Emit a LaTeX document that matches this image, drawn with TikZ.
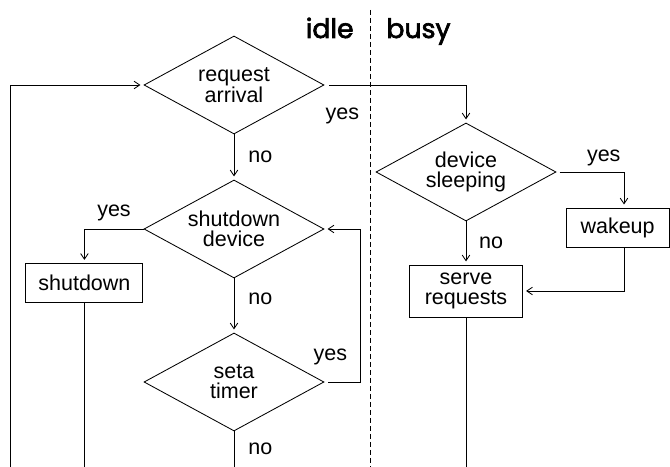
\documentclass[tikz,border=0pt]{standalone}
\usepackage{fontspec}
\setmainfont{Liberation Sans}
\newfontfamily\tagfont[FakeBold=2.5]{Poppins}
\usetikzlibrary{shapes.geometric, arrows, arrows.meta}
\tikzstyle{decision} = [diamond, aspect=1.84, minimum width=4.5cm, minimum height=2.45cm, inner sep=1pt, text centered, align=center, draw=black]
\tikzstyle{process} = [rectangle, minimum height=0.975cm, text centered, align=center, draw=black]
\tikzstyle{arrow} = [->, >={Straight Barb[length=1.4mm, width=1.9mm]}, shorten >=0.08cm]
\tikzstyle{tag} = [font=\tagfont\fontsize{19}{19}\selectfont, inner sep=0pt]
\tikzstyle{answer} = [inner sep=2pt]

\begin{document}
\begin{tikzpicture}[node distance=3.6cm, line width=0.6pt, font=\fontsize{15.3}{14.2}\selectfont]
\useasboundingbox (0,0) rectangle (16.75,-11.675);

% idle | busy split
\coordinate (splittop) at (9.25,-0.25);
\coordinate (splitbot) at (9.25,-11.675);
\draw [dash pattern=on 1.25mm off 0.75mm] (splittop) -- (splitbot);
\node (idle) [tag, anchor=base east] at (8.85,-0.95) {idle};
\node (busy) [tag, anchor=base west] at (9.65,-0.95) {busy};

\node (ra) [decision] at (5.85,-2.125) {request\\arrival};
\node (sd) [decision, below of=ra] {shutdown\\device};
\node (st) [decision, below of=sd, yshift=-0.225cm] {seta\\timer};
\node (sb) [process, minimum width=2.925cm, left of=sd, xshift=-0.14cm, yshift=-1.35cm] {shutdown};
\node (ds) [decision, right of=ra, xshift=2.2cm, yshift=-2.175cm] {device\\sleeping};
\node (sr) [process, minimum width=2.825cm, minimum height=1.3cm, below of=ds, yshift=0.625cm] {serve\\requests};
\node (wu) [process, minimum width=2.575cm, right of=ds, xshift=0.19cm, yshift=-1.39cm] {wakeup};

% loose ends at the bottom
\coordinate (loopin) at (0.25,-11.675);
\coordinate (sbout) at (sb.south |- loopin);
\coordinate (stout) at (st.south |- loopin);
\coordinate (srout) at (sr.south |- loopin);

\draw [arrow] (loopin) |- (ra.west);
\draw [arrow, shorten <=0.12cm] (ra.east) node[answer, anchor=north west, xshift=-0.05cm, yshift=-0.5cm] {yes} -| (ds.north);
\draw [arrow] (ra.south) -- node[answer, right, xshift=0.28cm] {no} (sd.north);
\draw [arrow] (sd.west) -| node[answer, pos=0.25, above, yshift=0.12cm] {yes} (sb.north);
\draw [arrow] (sd.south) -- node[answer, pos=0.38, right, xshift=0.28cm] {no} (st.north);
\draw [arrow, shorten <=0.1cm] (st.east) -| node[answer, pos=0.25, above, xshift=-0.3cm, yshift=0.35cm] {yes} ([xshift=0.9cm]sd.east) -- (sd.east);
\draw (st.south) -- node[answer, right, xshift=0.28cm] {no} (stout);
\draw (sb.south) -- (sbout);

\draw [arrow] (ds.south) -- node[answer, right, xshift=0.25cm] {no} (sr.north);
\draw [arrow, shorten <=0.08cm] (ds.east) -| node[answer, pos=0.35, above, yshift=0.075cm] {yes} ([xshift=0.16cm]wu.north);
\draw [arrow] ([xshift=0.16cm]wu.south) |- (sr.east);
\draw (sr.south) -- (srout);

\end{tikzpicture}
\end{document}
